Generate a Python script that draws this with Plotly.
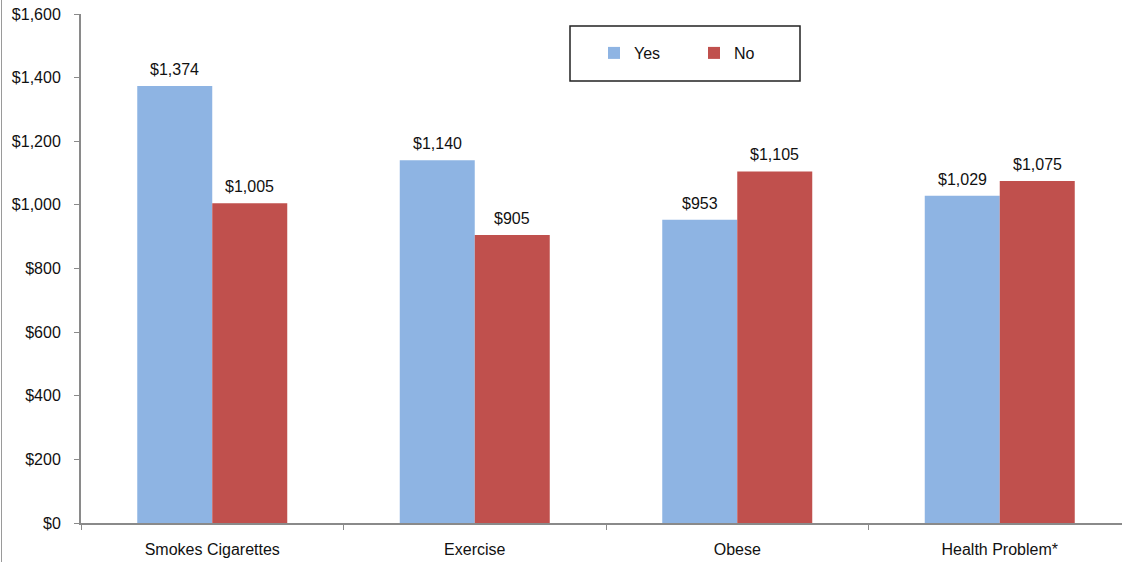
import plotly.graph_objects as go

categories = ["Smokes Cigarettes", "Exercise", "Obese", "Health Problem*"]
yes_values = [1374, 1140, 953, 1029]
no_values = [1005, 905, 1105, 1075]
series_names = ["Yes", "No"]
y_tickvals = [0, 200, 400, 600, 800, 1000, 1200, 1400, 1600]
y_ticktext = ["$0", "$200", "$400", "$600", "$800", "$1,000", "$1,200", "$1,400", "$1,600"]

W, H = 1122, 562
ML, MR, MT, MB = 81, 0, 14, 39
PW = W - ML - MR
PH = H - MT - MB

def px_x(p):
    return (p - ML) / PW

def px_y(p):
    return (H - MB - p) / PH

FONT = "Liberation Sans, Arial, sans-serif"
BLUE = "#8EB4E3"
RED = "#C0504D"
AXIS = "#8a8a8a"
CAT_PX = 262.5
BAR_PX = 75

def fmt(v):
    return "${:,}".format(v)

fig = go.Figure()
annotations = []
for si, (name, vals, col) in enumerate([(series_names[0], yes_values, BLUE), (series_names[1], no_values, RED)]):
    fig.add_trace(go.Bar(
        x=categories, y=vals, name=name,
        marker=dict(color=col, line=dict(width=0)),
        hoverinfo="x+y+name",
    ))
    shift = (-0.5 if si == 0 else 0.5) * BAR_PX
    for c, v in zip(categories, vals):
        annotations.append(dict(
            x=c, y=v, xref="x", yref="y", text=fmt(v), showarrow=False,
            xanchor="center", yanchor="bottom", xshift=shift, yshift=6,
            font=dict(family=FONT, size=16, color="#111111"),
        ))

n_vis = PW / CAT_PX
fig.update_layout(
    width=W, height=H,
    margin=dict(l=ML, r=MR, t=MT, b=MB, pad=0),
    paper_bgcolor="white", plot_bgcolor="white",
    barmode="group", bargap=1 - 2 * BAR_PX / CAT_PX, bargroupgap=0,
    font=dict(family=FONT, size=16, color="#111111"),
    showlegend=True,
    annotations=annotations,
    legend=dict(
        orientation="h", x=px_x(594), y=px_y(53), xanchor="left", yanchor="middle",
        xref="paper", yref="paper",
        bgcolor="rgba(0,0,0,0)", borderwidth=0,
        font=dict(family=FONT, size=16, color="#111111"),
        entrywidth=55, itemwidth=30, traceorder="normal",
    ),
    xaxis=dict(
        type="category", range=[-0.5, -0.5 + n_vis],
        showline=True, linecolor=AXIS, linewidth=2,
        ticks="outside", tickson="boundaries", ticklen=5, tickwidth=1, tickcolor=AXIS,
        showgrid=False, zeroline=False,
        tickfont=dict(family=FONT, size=16, color="#111111"),
        ticklabelstandoff=11,
    ),
    yaxis=dict(
        range=[0, 1600], tickvals=y_tickvals, ticktext=y_ticktext,
        showline=True, linecolor=AXIS, linewidth=2,
        ticks="outside", ticklen=5, tickwidth=1, tickcolor=AXIS,
        showgrid=False, zeroline=False,
        tickfont=dict(family=FONT, size=16, color="#111111"),
        ticklabelstandoff=10,
    ),
    shapes=[
        dict(type="rect", xref="paper", yref="paper",
             x0=px_x(570), x1=px_x(800), y0=px_y(81), y1=px_y(26),
             line=dict(color="#222222", width=1.5), fillcolor="rgba(0,0,0,0)", layer="below"),
        dict(type="line", xref="paper", yref="paper",
             x0=px_x(1.5), x1=px_x(1.5), y0=px_y(0), y1=px_y(H),
             line=dict(color="#9a9a9a", width=1)),
    ],
)

fig.write_html("out.html", config={"displayModeBar": False})
with open("out.html", "r", encoding="utf-8") as f:
    html = f.read()
html = html.replace("<body>", '<body style="margin:0;padding:0;overflow:hidden">', 1)
with open("out.html", "w", encoding="utf-8") as f:
    f.write(html)
